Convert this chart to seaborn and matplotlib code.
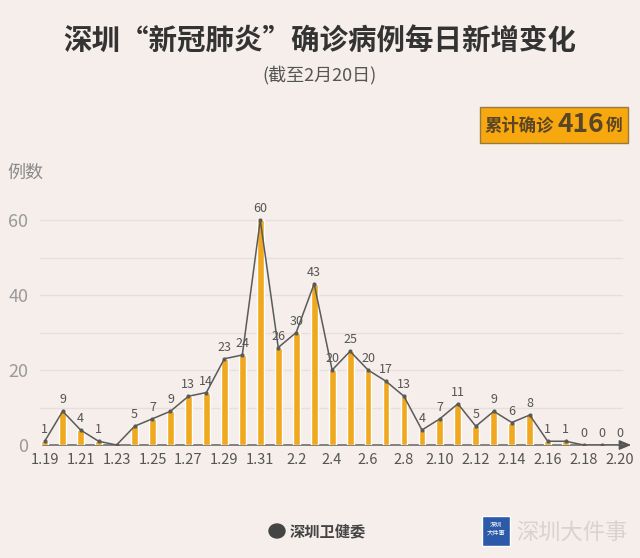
import numpy as np
import pandas as pd
import matplotlib
matplotlib.use("Agg")
import matplotlib.pyplot as plt
from matplotlib.patches import Circle, Rectangle
import seaborn as sns

dates = ["1.19", "1.20", "1.21", "1.22", "1.23", "1.24", "1.25", "1.26", "1.27", "1.28",
         "1.29", "1.30", "1.31", "2.1", "2.2", "2.3", "2.4", "2.5", "2.6", "2.7", "2.8",
         "2.9", "2.10", "2.11", "2.12", "2.13", "2.14", "2.15", "2.16", "2.17", "2.18",
         "2.19", "2.20"]
cases = [1, 9, 4, 1, 0, 5, 7, 9, 13, 14, 23, 24, 60, 26, 30, 43, 20, 25, 20, 17, 13,
         4, 7, 11, 5, 9, 6, 8, 1, 1, 0, 0, 0]
shown_ticks = dates[::2]
y_ticks = [0, 20, 40, 60]

BG = "#F5EEEB"
BAR = "#F0A820"
TXT = "#555555"

sns.set_theme(style="white")
plt.rcParams["font.family"] = ["Noto Sans CJK SC", "DejaVu Sans"]

df = pd.DataFrame({"date": dates, "cases": cases, "pos": np.arange(len(dates))})

fig = plt.figure(figsize=(6.4, 5.58), dpi=100, facecolor=BG)
ax = fig.add_axes([0.053, 0.2025, 0.9375, 0.4301])
ax.set_facecolor(BG)

for yv in range(10, 61, 10):
    ax.axhline(yv, xmin=0.01, xmax=0.98, color="#E7DFDB", lw=1, zorder=0)

sns.barplot(data=df, x="date", y="cases", order=dates, color=BAR, width=0.38,
            saturation=1, ax=ax, zorder=2)
sns.lineplot(data=df, x="pos", y="cases", color="#5a5a5a", lw=1.1, marker="o",
             markersize=3, markeredgewidth=0, ax=ax, zorder=3)

for i, (d, v) in enumerate(zip(dates, cases)):
    if d == "1.23":
        continue
    ax.annotate(str(v), (i, v), xytext=(0, 3.5), textcoords="offset points",
                ha="center", va="bottom", fontsize=9, color=TXT, zorder=4)

ax.set_xlim(-0.6, 32.8)
ax.set_ylim(0, 64)
ax.set_xticks([dates.index(t) for t in shown_ticks])
ax.set_xticklabels(shown_ticks, fontsize=10.5, color="#555555")
ax.set_yticks(y_ticks)
ax.set_yticklabels([str(t) for t in y_ticks], fontsize=13, color="#9a9a9a")
ax.tick_params(axis="x", length=0, pad=6)
ax.tick_params(axis="y", length=0, pad=4)
ax.set_xlabel("")
ax.set_ylabel("")
for s in ax.spines.values():
    s.set_visible(False)

# x axis line with arrow
ax.annotate("", xy=(1.0, 0), xycoords=("axes fraction", "data"),
            xytext=(0.01, 0), textcoords=("axes fraction", "data"),
            arrowprops=dict(arrowstyle="-|>,head_length=0.6,head_width=0.25",
                            color="#555555", lw=1), zorder=1)

fig.text(0.5, 0.925, "深圳“新冠肺炎”确诊病例每日新增变化", ha="center", va="center",
         fontsize=20.5, fontweight="bold", color="#333333")
fig.text(0.5, 0.865, "(截至2月20日)", ha="center", va="center",
         fontsize=13, color="#555555")
fig.text(0.012, 0.69, "例数", ha="left", va="center", fontsize=13, color="#8a8a8a")

# total box
box = Rectangle((480 / 640, 1 - 143 / 558), 148 / 640, 36 / 558,
                transform=fig.transFigure, facecolor="#F7A80F", edgecolor="#9a7a3a",
                lw=1)
fig.patches.append(box)
fig.text(485 / 640, 1 - 126 / 558, "累计确诊", ha="left", va="center",
         fontsize=12.5, fontweight="bold", color="#5a4526")
fig.text(557 / 640, 1 - 125 / 558, "416", ha="left", va="center",
         fontsize=19, fontweight="bold", color="#5a4526")
fig.text(606 / 640, 1 - 126 / 558, "例", ha="left", va="center",
         fontsize=12, fontweight="bold", color="#5a4526")

# footer
logo = Circle((277 / 640, 1 - 531 / 558), 8 / 640, transform=fig.transFigure,
              facecolor="#444444", edgecolor="#444444")
fig.patches.append(logo)
fig.text(290 / 640, 1 - 531 / 558, "深圳卫健委", ha="left", va="center",
         fontsize=11, fontweight="bold", color="#444444")
icon = Rectangle((482 / 640, 1 - 546 / 558), 28 / 640, 30 / 558,
                 transform=fig.transFigure, facecolor="#2D5AA8", edgecolor="white", lw=1)
fig.patches.append(icon)
fig.text(496 / 640, 1 - 529 / 558, "深圳\n大件事", ha="center", va="center",
         fontsize=4.5, color="white", linespacing=1.0)
fig.text(516 / 640, 1 - 532 / 558, "深圳大件事", ha="left", va="center",
         fontsize=16, color="#d8d2d0")

fig.savefig("out.png", dpi=100, facecolor=BG)
